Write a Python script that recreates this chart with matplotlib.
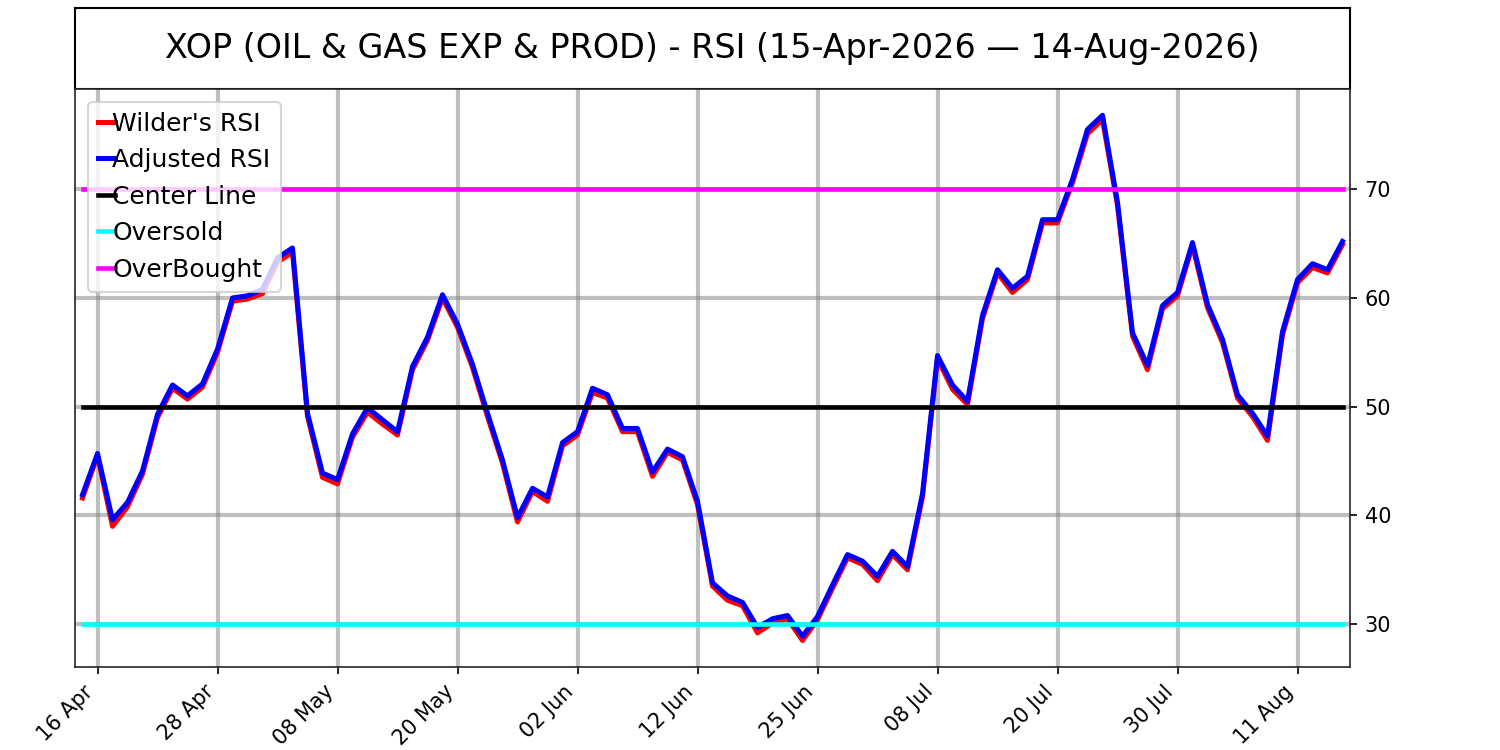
import matplotlib
matplotlib.use("Agg")
import matplotlib.pyplot as plt
import pandas as pd

# trading days 15 Apr - 14 Aug 2026 (market holidays skipped)
holidays = ["2026-05-25", "2026-06-19", "2026-07-03"]
dates = pd.bdate_range("2026-04-15", "2026-08-14", freq="C", holidays=holidays)

wilder_rsi = [41.6, 45.5, 39.0, 40.8, 43.8, 49.0, 51.7, 50.7, 51.8, 55.0, 59.7, 59.9, 60.4, 63.3, 64.2,
              49.1, 43.5, 42.9, 47.2, 49.5, 48.4, 47.4, 53.4, 56.1, 60.0, 57.3, 53.6, 49.1, 44.8, 39.4,
              42.2, 41.3, 46.4, 47.4, 51.3, 50.8, 47.7, 47.7, 43.6, 45.8, 45.1, 41.0, 33.5, 32.2, 31.7,
              29.2, 30.1, 30.5, 28.5, 30.4, 33.3, 36.1, 35.5, 34.0, 36.4, 35.0, 41.7, 54.4, 51.6, 50.2,
              58.1, 62.3, 60.5, 61.7, 66.9, 66.9, 70.6, 75.1, 76.4, 68.5, 56.5, 53.4, 59.0, 60.2, 64.8,
              59.1, 55.9, 50.8, 49.1, 46.9, 56.6, 61.4, 62.8, 62.3, 64.9]

adjusted_rsi = [41.9, 45.7, 39.6, 41.2, 44.1, 49.3, 52.0, 51.0, 52.1, 55.3, 60.0, 60.2, 60.8, 63.7, 64.6,
                49.4, 43.9, 43.3, 47.5, 49.9, 48.8, 47.7, 53.7, 56.4, 60.3, 57.6, 53.9, 49.4, 45.1, 39.8,
                42.5, 41.7, 46.7, 47.7, 51.7, 51.1, 48.0, 48.0, 44.0, 46.1, 45.4, 41.3, 33.8, 32.6, 32.0,
                29.7, 30.5, 30.8, 28.9, 30.7, 33.6, 36.4, 35.8, 34.4, 36.7, 35.3, 42.0, 54.7, 52.0, 50.5,
                58.4, 62.6, 60.9, 62.0, 67.2, 67.2, 70.9, 75.5, 76.8, 68.8, 56.8, 53.8, 59.3, 60.5, 65.1,
                59.4, 56.2, 51.1, 49.4, 47.3, 56.9, 61.7, 63.15, 62.6, 65.2]

center_level = 50
oversold_level = 30
overbought_level = 70

title = "XOP (OIL & GAS EXP & PROD) - RSI (15-Apr-2026 \u2014 14-Aug-2026)"

x = list(range(len(dates)))
tick_pos = x[1::8]
tick_labels = [dates[i].strftime("%d %b") for i in tick_pos]

fig = plt.figure(figsize=(10, 5), dpi=150)

# title box on top
tax = fig.add_axes([0.05, 0.8813, 0.85, 0.108])
tax.set_xticks([])
tax.set_yticks([])
for s in tax.spines.values():
    s.set_color("black")
    s.set_linewidth(1.0)
tax.text(0.5, 0.5, title, ha="center", va="center", fontsize=16, transform=tax.transAxes)

ax = fig.add_axes([0.05, 0.111, 0.85, 0.7703])
ax.plot(x, wilder_rsi, color="red", lw=2.4, label="Wilder's RSI")
ax.plot(x, adjusted_rsi, color="blue", lw=2.4, label="Adjusted RSI")
ax.plot(x, [center_level] * len(x), color="black", lw=2.2, label="Center Line")
ax.plot(x, [oversold_level] * len(x), color="cyan", lw=2.2, label="Oversold")
ax.plot(x, [overbought_level] * len(x), color="magenta", lw=2.2, label="OverBought")

ax.set_xlim(-0.5, len(x) - 0.5)
ax.set_xticks(tick_pos)
ax.set_xticklabels(tick_labels, rotation=45, ha="right")
ax.yaxis.tick_right()
ax.set_yticks([30, 40, 50, 60, 70])
ax.grid(True, color="gray", alpha=0.5, lw=2)
ax.set_axisbelow(True)
for s in ax.spines.values():
    s.set_color("#262626")

ax.legend(loc="upper left", fontsize=12, handlelength=0.7, handletextpad=-0.1,
          borderaxespad=0.5, labelspacing=0.5)

fig.savefig("out.png", dpi=150)
